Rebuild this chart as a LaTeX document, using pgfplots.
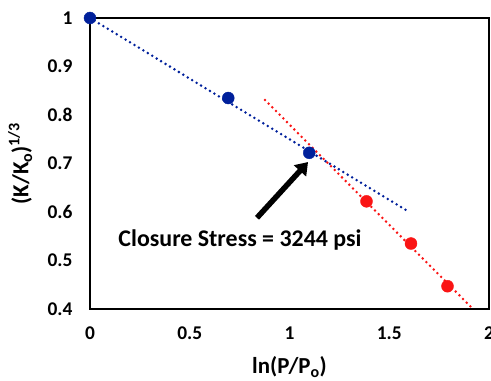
\documentclass[border=0pt]{standalone}
\usepackage{fontspec}
\setmainfont{Carlito}
\usepackage{pgfplots}
\pgfplotsset{compat=1.18}
\usetikzlibrary{arrows.meta}

\definecolor{ptblue}{RGB}{0,32,155}
\definecolor{ptred}{RGB}{250,20,20}

\begin{document}
\begin{tikzpicture}
\begin{axis}[
  scale only axis,
  width=399bp, height=291bp,
  xmin=0, xmax=2, ymin=0.4, ymax=1,
  xtick={0,0.5,1,1.5,2},
  xticklabels={0,0.5,1,1.5,2},
  ytick={0.4,0.5,0.6,0.7,0.8,0.9,1},
  yticklabels={0.4,0.5,0.6,0.7,0.8,0.9,1},
  major tick length=0pt,
  axis line style={line width=1.3bp, black},
  clip=false,
  /pgf/number format/assume math mode=true,
  ticklabel style={font=\fontsize{19.5}{22}\selectfont\bfseries},
  yticklabel style={xshift=-14bp},
  xticklabel style={yshift=-14bp},
  label style={font=\fontsize{23}{26}\selectfont\bfseries},
  xlabel={ln(P/P\textsubscript{o})},
  ylabel={(K/K\textsubscript{o})\textsuperscript{1/3}},
  xlabel style={at={(axis description cs:0.5,-0.199)}, anchor=center},
  ylabel style={at={(axis description cs:-0.175,0.5)}, anchor=center},
]
% trend lines
\addplot[ptblue, line width=2.8bp, line cap=round, dash pattern=on 0pt off 5.2bp]
  coordinates {(0,1) (1.6,0.6)};
\addplot[ptred, line width=2.8bp, line cap=round, dash pattern=on 0pt off 5.2bp]
  coordinates {(0.877,0.831) (1.92,0.4)};
% measured points
\addplot[only marks, mark=*, mark size=6bp, ptblue, mark options={fill=ptblue, draw=ptblue}]
  coordinates {(0,1) (0.693,0.835) (1.099,0.722)};
\addplot[only marks, mark=*, mark size=6bp, ptred, mark options={fill=ptred, draw=ptred}]
  coordinates {(1.386,0.622) (1.609,0.535) (1.792,0.447)};
% closure stress annotation
\draw[line width=5.5bp, -{Triangle[length=12bp,width=16bp]}]
  (axis cs:0.837,0.588) -- (axis cs:1.093,0.703);
\node[font=\fontsize{24}{27}\selectfont\bfseries, anchor=center]
  at (axis cs:0.752,0.542) {Closure Stress = 3244 psi};
\end{axis}
\pgfresetboundingbox
\path (current axis.south west) ++(-90bp,-72bp) coordinate (bl);
\path (current axis.north east) ++(2bp,18bp) coordinate (tr);
\useasboundingbox (bl) rectangle (tr);
\end{tikzpicture}
\end{document}
